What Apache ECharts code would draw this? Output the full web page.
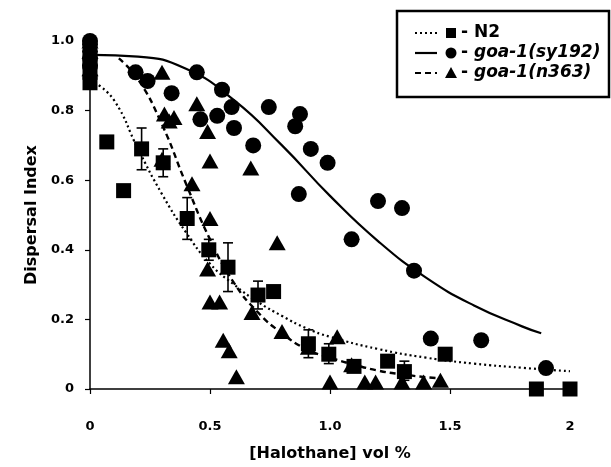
<!DOCTYPE html>
<html>
<head>
<meta charset="utf-8">
<title>Dispersal Index vs Halothane</title>
<style>
html,body{margin:0;padding:0;background:#fff;}
#main{width:611px;height:467px;}
</style>
<script src="https://cdn.jsdelivr.net/npm/echarts@6/dist/echarts.min.js"></script>
</head>
<body>
<div id="main"></div>
<script>
// N2 points
var n2X = [0, 0, 0, 0.07, 0.14, 0.215, 0.305, 0.405, 0.495, 0.575, 0.70, 0.765, 0.91, 0.995, 1.10, 1.24, 1.31, 1.48, 1.86, 2.0];
var n2Y = [0.88, 0.91, 0.94, 0.71, 0.57, 0.69, 0.65, 0.49, 0.40, 0.35, 0.27, 0.28, 0.13, 0.10, 0.065, 0.08, 0.05, 0.10, 0, 0];
// N2 error bars
var errX = [0.215, 0.305, 0.405, 0.495, 0.575, 0.70, 0.91, 0.995, 1.31];
var errLow = [0.63, 0.61, 0.43, 0.37, 0.28, 0.23, 0.09, 0.073, 0.025];
var errHigh = [0.75, 0.69, 0.55, 0.43, 0.42, 0.31, 0.17, 0.13, 0.08];
// goa-1(sy192)
var syX = [0, 0, 0, 0, 0, 0.19, 0.24, 0.34, 0.445, 0.46, 0.53, 0.55, 0.59, 0.60, 0.68, 0.745, 0.855, 0.875, 0.87, 0.92, 0.99, 1.09, 1.20, 1.30, 1.35, 1.42, 1.63, 1.90];
var syY = [1.0, 0.99, 0.97, 0.95, 0.93, 0.91, 0.885, 0.85, 0.91, 0.775, 0.785, 0.86, 0.81, 0.75, 0.70, 0.81, 0.755, 0.79, 0.56, 0.69, 0.65, 0.43, 0.54, 0.52, 0.34, 0.145, 0.14, 0.06];
// goa-1(n363)
var nX = [0, 0, 0, 0.30, 0.31, 0.35, 0.33, 0.445, 0.49, 0.50, 0.30, 0.67, 0.425, 0.50, 0.78, 0.49, 0.50, 0.54, 0.555, 0.58, 0.61, 0.675, 0.80, 0.91, 1.03, 1.0, 1.09, 1.145, 1.19, 1.30, 1.39, 1.46];
var nY = [1.0, 0.97, 0.92, 0.91, 0.79, 0.78, 0.77, 0.82, 0.74, 0.655, 0.66, 0.635, 0.59, 0.49, 0.42, 0.345, 0.25, 0.25, 0.14, 0.11, 0.035, 0.22, 0.165, 0.12, 0.15, 0.02, 0.07, 0.02, 0.02, 0.02, 0.02, 0.025];
// fitted curves
var n2CurveX = [0.02, 0.1, 0.2, 0.3, 0.4, 0.5, 0.6, 0.7, 0.8, 0.9, 1.0, 1.2, 1.4, 1.6, 1.8, 2.0];
var n2CurveY = [0.88, 0.83, 0.69, 0.56, 0.45, 0.36, 0.30, 0.25, 0.21, 0.175, 0.15, 0.115, 0.09, 0.073, 0.061, 0.051];
var syCurveX = [0.01, 0.2, 0.4, 0.6, 0.8, 1.0, 1.2, 1.4, 1.6, 1.8, 1.88];
var syCurveY = [0.96, 0.955, 0.92, 0.83, 0.70, 0.555, 0.425, 0.32, 0.24, 0.18, 0.16];
var nCurveX = [0.12, 0.2, 0.3, 0.4, 0.5, 0.6, 0.7, 0.8, 0.9, 1.0, 1.1, 1.2, 1.3, 1.4, 1.47];
var nCurveY = [0.95, 0.89, 0.76, 0.59, 0.43, 0.305, 0.22, 0.16, 0.115, 0.09, 0.07, 0.053, 0.042, 0.034, 0.03];

var xTickLabels = {'0': '0', '0.5': '0.5', '1': '1.0', '1.5': '1.5', '2': '2'};
var legendNames = ['N2', 'goa-1(sy192)', 'goa-1(n363)'];

function pairs(xs, ys) {
    var out = [];
    for (var i = 0; i < xs.length; i++) out.push([xs[i], ys[i]]);
    return out;
}

var FONT = 'DejaVu Sans';
var myChart = echarts.init(document.getElementById('main'));

var errData = [];
for (var i = 0; i < errX.length; i++) errData.push([errX[i], errLow[i], errHigh[i]]);

// legend drawn by hand (line sample + marker + label)
var lg = [];
lg.push({type: 'rect', shape: {x: 397, y: 11, width: 212, height: 86},
    style: {fill: '#fff', stroke: '#000', lineWidth: 2.5}, z: 100});
var rowsY = [33, 53, 73];
var dashes = [[2, 3], null, [6, 4]];
for (var r = 0; r < 3; r++) {
    lg.push({type: 'line', shape: {x1: 415, y1: rowsY[r], x2: 437, y2: rowsY[r]},
        style: {stroke: '#000', lineWidth: 2.2, lineDash: dashes[r]}, z: 101});
}
lg.push({type: 'rect', shape: {x: 446, y: rowsY[0] - 5, width: 10, height: 10}, style: {fill: '#000'}, z: 101});
lg.push({type: 'circle', shape: {cx: 451, cy: rowsY[1], r: 5.5}, style: {fill: '#000'}, z: 101});
lg.push({type: 'polygon', shape: {points: [[451, rowsY[2] - 6], [445, rowsY[2] + 5], [457, rowsY[2] + 5]]}, style: {fill: '#000'}, z: 101});
for (var r = 0; r < 3; r++) {
    lg.push({type: 'text', x: 461, y: rowsY[r], z: 101,
        style: {
            text: r === 0 ? '- {n|' + legendNames[r] + '}' : '- {i|' + legendNames[r] + '}',
            fontFamily: FONT, fontWeight: 'bold', fontSize: 17, fill: '#000', verticalAlign: 'middle',
            rich: {
                n: {fontFamily: FONT, fontWeight: 'bold', fontSize: 17},
                i: {fontFamily: FONT, fontWeight: 'bold', fontStyle: 'italic', fontSize: 17}
            }
        }});
}

var option = {
    animation: false,
    backgroundColor: '#fff',
    grid: {left: 90, right: 41, top: 41, bottom: 72, containLabel: false},
    xAxis: {
        type: 'value', min: 0, max: 2, interval: 0.5,
        name: '[Halothane] vol %', nameLocation: 'middle', nameGap: 57,
        nameTextStyle: {fontFamily: FONT, fontWeight: 'bold', fontSize: 16, color: '#000'},
        splitLine: {show: false},
        axisLine: {onZero: false, lineStyle: {color: '#000', width: 1.5}},
        axisTick: {length: 5, lineStyle: {color: '#000', width: 1.2}},
        axisLabel: {margin: 31, fontFamily: FONT, fontWeight: 'bold', fontSize: 13, color: '#000',
            formatter: function (v) { return xTickLabels[String(v)] || ''; }}
    },
    yAxis: {
        type: 'value', min: 0, max: 1, interval: 0.2,
        name: 'Dispersal Index', nameLocation: 'middle', nameGap: 46, nameRotate: 90,
        nameTextStyle: {fontFamily: FONT, fontWeight: 'bold', fontSize: 16, color: '#000'},
        splitLine: {show: false},
        axisLine: {show: true, lineStyle: {color: '#000', width: 1.5}},
        axisTick: {show: true, length: 5, lineStyle: {color: '#000', width: 1.2}},
        axisLabel: {margin: 16, fontFamily: FONT, fontWeight: 'bold', fontSize: 13, color: '#000',
            formatter: function (v) { return v === 0 ? '0' : v.toFixed(1); }}
    },
    graphic: lg,
    series: [
        {name: 'N2 fit', type: 'line', data: pairs(n2CurveX, n2CurveY), smooth: 0.5,
            showSymbol: false, silent: true, lineStyle: {color: '#000', width: 2.2, type: [2, 3]}, z: 2},
        {name: 'sy192 fit', type: 'line', data: pairs(syCurveX, syCurveY), smooth: 0.5,
            showSymbol: false, silent: true, lineStyle: {color: '#000', width: 2.2}, z: 2},
        {name: 'n363 fit', type: 'line', data: pairs(nCurveX, nCurveY), smooth: 0.5,
            showSymbol: false, silent: true, lineStyle: {color: '#000', width: 2.4, type: [6, 4]}, z: 2},
        {name: 'N2 error', type: 'custom', data: errData, z: 3,
            renderItem: function (params, api) {
                var x = api.value(0);
                var lo = api.coord([x, api.value(1)]);
                var hi = api.coord([x, api.value(2)]);
                var hw = 5;
                var st = {stroke: '#000', lineWidth: 1.6};
                return {type: 'group', children: [
                    {type: 'line', shape: {x1: lo[0], y1: lo[1], x2: hi[0], y2: hi[1]}, style: st},
                    {type: 'line', shape: {x1: lo[0] - hw, y1: lo[1], x2: lo[0] + hw, y2: lo[1]}, style: st},
                    {type: 'line', shape: {x1: hi[0] - hw, y1: hi[1], x2: hi[0] + hw, y2: hi[1]}, style: st}
                ]};
            }},
        {name: legendNames[0], type: 'scatter', data: pairs(n2X, n2Y), symbol: 'rect', symbolSize: 15,
            itemStyle: {color: '#000', opacity: 1}, z: 4},
        {name: legendNames[1], type: 'scatter', data: pairs(syX, syY), symbol: 'circle', symbolSize: 16,
            itemStyle: {color: '#000', opacity: 1}, z: 4},
        {name: legendNames[2], type: 'scatter', data: pairs(nX, nY), symbol: 'triangle', symbolSize: [17, 15],
            itemStyle: {color: '#000', opacity: 1}, z: 5}
    ]
};
myChart.setOption(option);
</script>
</body>
</html>
